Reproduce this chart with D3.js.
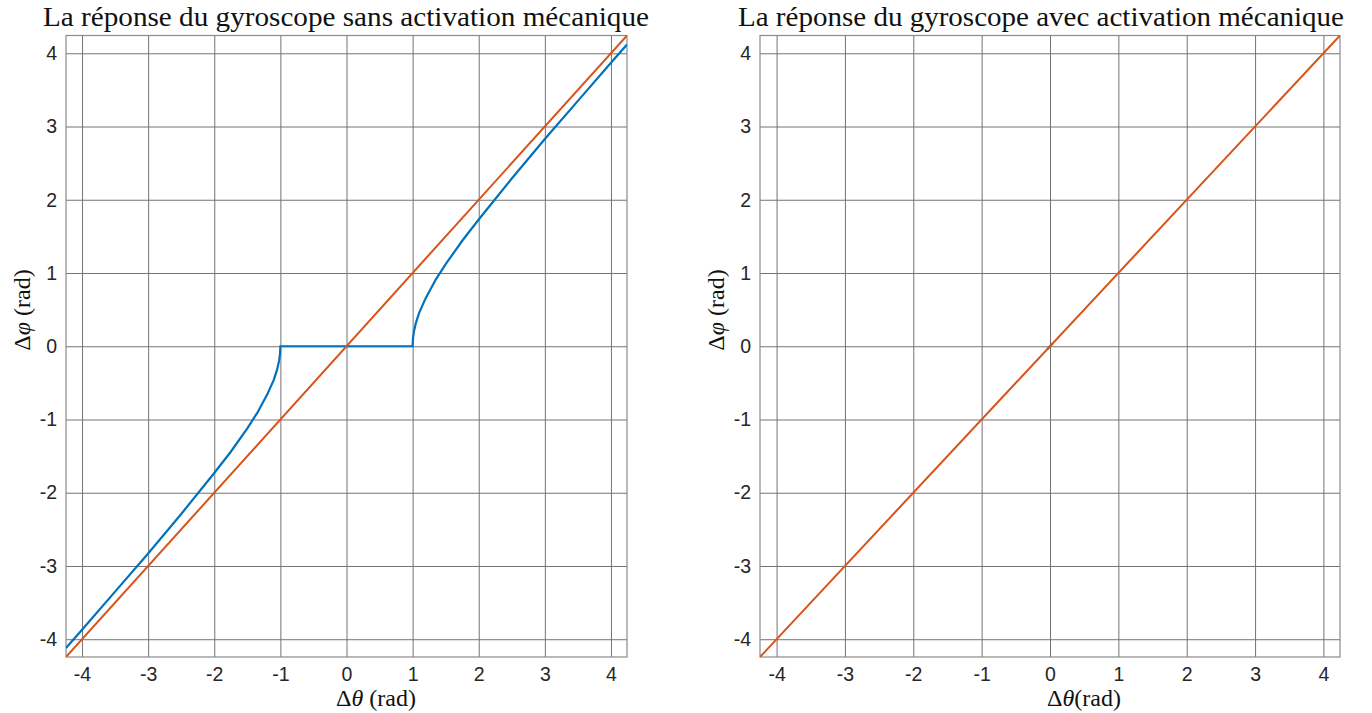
<!DOCTYPE html>
<html>
<head>
<meta charset="utf-8">
<script src="https://cdn.jsdelivr.net/npm/d3@7"></script>
<style>
  body { margin: 0; background: #fff; }
  .tick text { font-family: "Liberation Sans", Arial, sans-serif; font-size: 19.5px; fill: #262626; }
  .title { font-family: "Liberation Serif", "DejaVu Serif", serif; font-size: 27px; fill: #111; }
  .axis-label { font-family: "Liberation Serif", "DejaVu Serif", serif; font-size: 24px; fill: #111; }
</style>
</head>
<body>
<div id="chart"></div>
<script>
var svgWidth = 1372;
var svgHeight = 713;

// tick values shared by both panels
var ticks = [-4, -3, -2, -1, 0, 1, 2, 3, 4];
var domainLim = [-4.2426, 4.2426];

// left panel: gyroscope response without mechanical activation
var freeX = [-4.2426, -4, -3.5, -3, -2.5, -2, -1.75, -1.5, -1.35, -1.2, -1.1, -1.05, -1.02, -1.005, -1,
             1, 1.005, 1.02, 1.05, 1.1, 1.2, 1.35, 1.5, 1.75, 2, 2.5, 3, 3.5, 4, 4.2426];
var freeY = [-4.12, -3.87, -3.35, -2.83, -2.29, -1.73, -1.44, -1.12, -0.91, -0.66, -0.46, -0.32, -0.20, -0.10, 0,
             0, 0.10, 0.20, 0.32, 0.46, 0.66, 0.91, 1.12, 1.44, 1.73, 2.29, 2.83, 3.35, 3.87, 4.12];

// right panel: response with mechanical activation (tiny blob at origin)
var actX = [-0.04, 0, 0.04];
var actY = [-0.04, 0, 0.04];

// reference line, identity
var refX = [-4.2426, 4.2426];
var refY = [-4.2426, 4.2426];

var panels = [
  { left: 66, right: 627, title: "La réponse du gyroscope sans activation mécanique", titleX: 346,
    xsep: " ", xlabX: 376, ylabX: 30, blueX: freeX, blueY: freeY },
  { left: 760, right: 1340, title: "La réponse du gyroscope avec activation mécanique", titleX: 1041,
    xsep: "", xlabX: 1084, ylabX: 724, blueX: actX, blueY: actY }
];

var plotTop = 35.5, plotBottom = 657;

var svg = d3.select("#chart")
  .append("svg")
  .attr("width", svgWidth)
  .attr("height", svgHeight);

var blue = "#0072BD";
var orange = "#D95319";
var gridColor = "#737373";

panels.forEach(function (p, k) {
  var x = d3.scaleLinear().domain(domainLim).range([p.left, p.right]);
  var y = d3.scaleLinear().domain(domainLim).range([plotBottom, plotTop]);

  var g = svg.append("g");

  svg.append("clipPath").attr("id", "clip" + k)
    .append("rect")
    .attr("x", p.left).attr("y", plotTop)
    .attr("width", p.right - p.left).attr("height", plotBottom - plotTop);

  // grid lines
  g.append("g")
    .attr("transform", `translate(0,${plotBottom})`)
    .call(d3.axisBottom(x).tickValues(ticks).tickSize(-(plotBottom - plotTop)).tickFormat(""))
    .call(s => s.select(".domain").remove())
    .selectAll("line").attr("stroke", gridColor).attr("stroke-width", 1);

  g.append("g")
    .attr("transform", `translate(${p.left},0)`)
    .call(d3.axisLeft(y).tickValues(ticks).tickSize(-(p.right - p.left)).tickFormat(""))
    .call(s => s.select(".domain").remove())
    .selectAll("line").attr("stroke", gridColor).attr("stroke-width", 1);

  // tick labels (plain hyphen minus, as in the picture)
  g.append("g")
    .attr("transform", `translate(0,${plotBottom})`)
    .call(d3.axisBottom(x).tickValues(ticks).tickSize(0).tickPadding(10).tickFormat(d => String(d)))
    .call(s => s.select(".domain").remove());

  g.append("g")
    .attr("transform", `translate(${p.left},0)`)
    .call(d3.axisLeft(y).tickValues(ticks).tickSize(0).tickPadding(9).tickFormat(d => String(d)))
    .call(s => s.select(".domain").remove());

  // box
  g.append("rect")
    .attr("x", p.left).attr("y", plotTop)
    .attr("width", p.right - p.left).attr("height", plotBottom - plotTop)
    .attr("fill", "none").attr("stroke", "#8a8a8a").attr("stroke-width", 1.2);

  var line = d3.line().x(d => x(d[0])).y(d => y(d[1]));

  var plot = g.append("g").attr("clip-path", `url(#clip${k})`);

  plot.append("path")
    .datum(d3.zip(p.blueX, p.blueY))
    .attr("d", line)
    .attr("fill", "none").attr("stroke", blue).attr("stroke-width", 2.2);

  plot.append("path")
    .datum(d3.zip(refX, refY))
    .attr("d", line)
    .attr("fill", "none").attr("stroke", orange).attr("stroke-width", 2);

  // titles and labels
  svg.append("text")
    .attr("class", "title")
    .attr("x", p.titleX).attr("y", 26)
    .attr("text-anchor", "middle")
    .attr("textLength", 606)
    .attr("lengthAdjust", "spacingAndGlyphs")
    .text(p.title);

  var xl = svg.append("text")
    .attr("class", "axis-label")
    .attr("x", p.xlabX).attr("y", 706)
    .attr("text-anchor", "middle");
  xl.append("tspan").text("Δ");
  xl.append("tspan").attr("font-style", "italic").text("θ");
  xl.append("tspan").text(p.xsep + "(rad)");

  var yl = svg.append("text")
    .attr("class", "axis-label")
    .attr("transform", `translate(${p.ylabX},310) rotate(-90)`)
    .attr("text-anchor", "middle");
  yl.append("tspan").text("Δ");
  yl.append("tspan").attr("font-style", "italic").text("φ");
  yl.append("tspan").text(" (rad)");
});
</script>
</body>
</html>
